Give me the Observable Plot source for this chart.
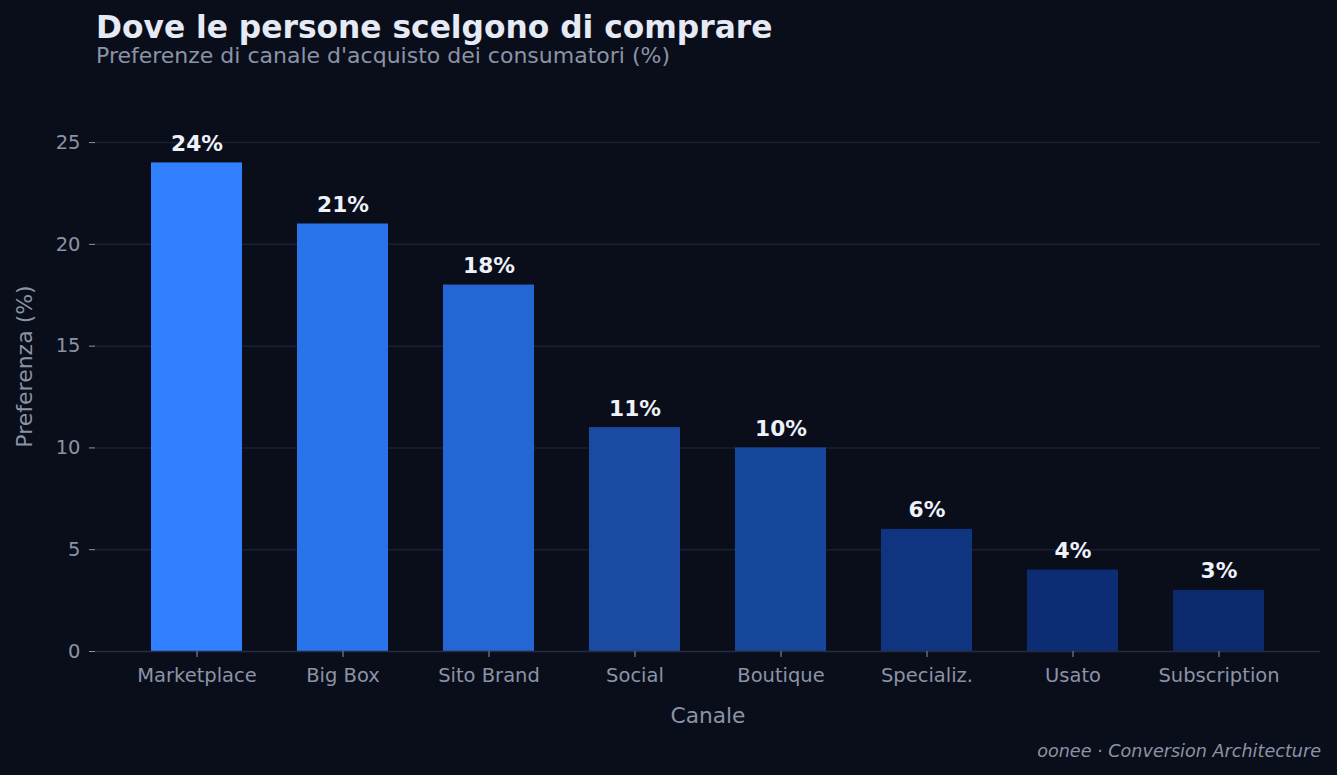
<!DOCTYPE html>
<html>
<head>
<meta charset="utf-8">
<script src="https://cdn.jsdelivr.net/npm/d3@7"></script>
<script src="https://cdn.jsdelivr.net/npm/@observablehq/plot@0.6"></script>
<style>
  html, body { margin: 0; padding: 0; background: #0a0e1a; }
  #wrap { position: relative; width: 1337px; height: 775px; background: #0a0e1a; font-family: "DejaVu Sans", sans-serif; overflow: hidden; }
  #title { position: absolute; left: 96px; top: 9px; font-size: 31.3px; line-height: 1.164; font-weight: bold; color: #e6eaf5; white-space: nowrap; }
  #subtitle { position: absolute; left: 96px; top: 43px; font-size: 22px; line-height: 1.164; color: #8b93a7; white-space: nowrap; }
  #caption { position: absolute; right: 16px; top: 741px; font-size: 17.6px; line-height: 1.164; font-style: italic; color: #8b93a7; white-space: nowrap; }
  #chart { position: absolute; left: 0; top: 0; }
</style>
</head>
<body>
<div id="wrap">
  <div id="chart"></div>
  <div id="title">Dove le persone scelgono di comprare</div>
  <div id="subtitle">Preferenze di canale d'acquisto dei consumatori (%)</div>
  <div id="caption">oonee · Conversion Architecture</div>
</div>
<script>
const channels = ["Marketplace", "Big Box", "Sito Brand", "Social", "Boutique", "Specializ.", "Usato", "Subscription"];
const shares = [24, 21, 18, 11, 10, 6, 4, 3];
const barColors = ["#3080ff", "#2a74ea", "#2466d3", "#1b4aa3", "#17479a", "#0f3580", "#0c2c74", "#0b296b"];
const yTicks = [0, 5, 10, 15, 20, 25];

const data = channels.map((c, i) => ({channel: c, share: shares[i], color: barColors[i]}));

const chart = Plot.plot({
  width: 1337,
  height: 775,
  marginLeft: 95,
  marginRight: 17,
  marginTop: 81,
  marginBottom: 124,
  style: { background: "transparent", fontFamily: "DejaVu Sans, sans-serif", fontSize: "19.5px", color: "#8b93a7" },
  x: { domain: channels, padding: 0.38, label: null },
  y: { domain: [0, 28], label: null },
  marks: [
    Plot.gridY(yTicks.filter(d => d > 0), { stroke: "#1a2035", strokeOpacity: 1, strokeWidth: 1.5 }),
    Plot.barY(data, { x: "channel", y: "share", fill: "color" }),
    Plot.ruleY([0], { stroke: "#252b40", strokeWidth: 1.5 }),
    Plot.axisY({ ticks: yTicks, tickSize: 6, tickPadding: 9, stroke: "#8b93a7", fill: "#8b93a7", fontSize: 19.5, label: null }),
    Plot.axisX({ tickSize: 6, tickPadding: 11, stroke: "#8b93a7", fill: "#8b93a7", fontSize: 19.5, label: null }),
    Plot.text(data, { x: "channel", y: "share", text: d => d.share + "%", dy: -12, lineAnchor: "bottom", fill: "#eef1f8", fontWeight: "bold", fontSize: 21.7 }),
    Plot.text(["Canale"], { frameAnchor: "bottom", dy: 71, fill: "#8b93a7", fontSize: 21.7 }),
    Plot.text(["Preferenza (%)"], { frameAnchor: "left", textAnchor: "middle", dx: -71, rotate: -90, fill: "#8b93a7", fontSize: 22 })
  ]
});
document.getElementById("chart").appendChild(chart);
</script>
</body>
</html>
